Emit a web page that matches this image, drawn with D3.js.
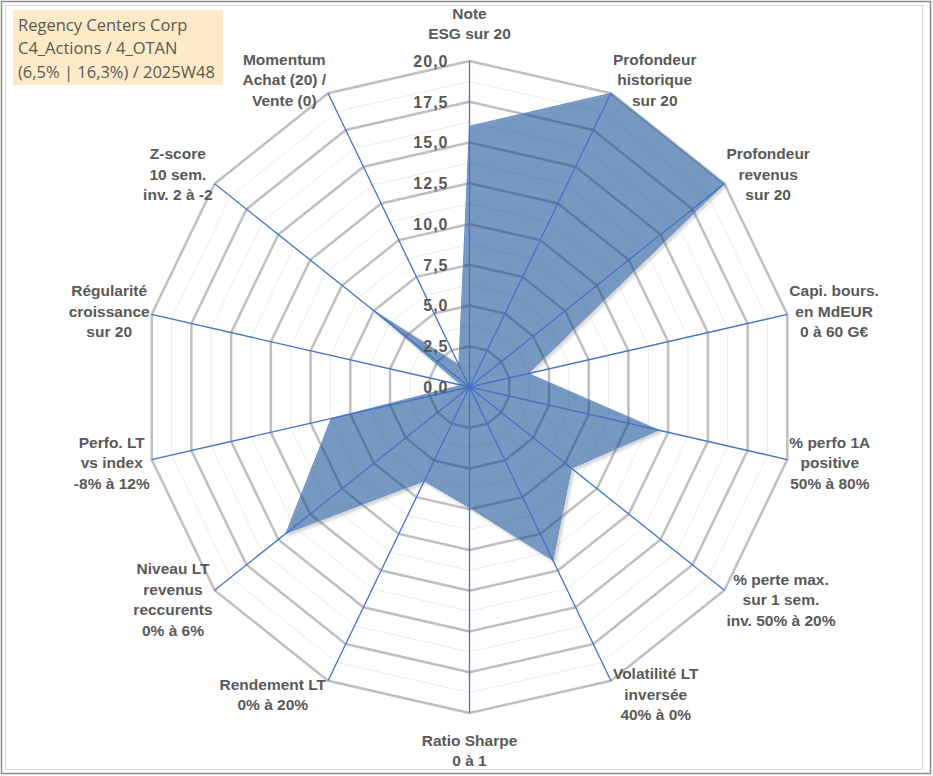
<!DOCTYPE html>
<html>
<head>
<meta charset="utf-8">
<script src="https://cdn.jsdelivr.net/npm/d3@7"></script>
<style>
  body { margin: 0; background: #fff; }
  svg { display: block; }
  .lbl { font-family: "Liberation Sans", Arial, sans-serif; font-weight: bold; font-size: 15.5px; fill: #595959; }
  .tick { font-family: "Liberation Sans", Arial, sans-serif; font-weight: bold; font-size: 16px; letter-spacing: 1px; fill: #595959; }
  .title { font-family: "Open Sans", sans-serif; font-size: 16.5px; fill: #595959; }
</style>
</head>
<body>
<svg id="chart" width="933" height="776"></svg>
<script>
// axis labels (clockwise from top)
const categories = [
  ["Note", "ESG sur 20"],
  ["Profondeur", "historique", "sur 20"],
  ["Profondeur", "revenus", "sur 20"],
  ["Capi. bours.", "en MdEUR", "0 à 60 G€"],
  ["% perfo 1A", "positive", "50% à 80%"],
  ["% perte max.", "sur 1 sem.", "inv. 50% à 20%"],
  ["Volatilité LT", "inversée", "40% à 0%"],
  ["Ratio Sharpe", "0 à 1"],
  ["Rendement LT", "0% à 20%"],
  ["Niveau LT", "revenus", "reccurents", "0% à 6%"],
  ["Perfo. LT", "vs index", "-8% à 12%"],
  ["Régularité", "croissance", "sur 20"],
  ["Z-score", "10 sem.", "inv. 2 à -2"],
  ["Momentum", "Achat (20) /", "Vente (0)"]
];

const values = [16.0, 20, 20, 3.7, 11.9, 8.0, 11.8, 7.4, 6.4, 14.4, 8.7, 0.5, 7.5, 1.5];

const majorTicks = [0, 2.5, 5, 7.5, 10, 12.5, 15, 17.5, 20];
const minorTicks = [1.25, 3.75, 6.25, 8.75, 11.25, 13.75, 16.25, 18.75];

const titleLines = ["Regency Centers Corp", "C4_Actions / 4_OTAN", "(6,5% | 16,3%) / 2025W48"];

const svg = d3.select('#chart');
const cx = 469.5, cy = 387, R = 326;
const n = categories.length;

const r = d3.scaleLinear().domain([0, 20]).range([0, R]);
const angle = d3.scaleLinear().domain([0, n]).range([0, 2 * Math.PI]);

const pt = (i, v) => [cx + r(v) * Math.sin(angle(i)), cy - r(v) * Math.cos(angle(i))];

// frame
svg.append('rect').attr('x', 1.5).attr('y', 1.5).attr('width', 929).attr('height', 772)
  .attr('fill', '#fff').attr('stroke', '#8c8c8c').attr('stroke-width', 1.5);
svg.append('rect').attr('x', 5.5).attr('y', 5.5).attr('width', 917).attr('height', 764)
  .attr('fill', 'none').attr('stroke', '#d9d9d9').attr('stroke-width', 1);

// shadow only outside the shape, so the translucent fill is not darkened
const defs = svg.append('defs');
const f = defs.append('filter').attr('id', 'shadow')
  .attr('x', '-10%').attr('y', '-10%').attr('width', '120%').attr('height', '120%');
f.append('feGaussianBlur').attr('in', 'SourceAlpha').attr('stdDeviation', 1.5).attr('result', 'blur');
f.append('feOffset').attr('in', 'blur').attr('dx', 1.5).attr('dy', 1.5).attr('result', 'off');
f.append('feFlood').attr('flood-color', '#000').attr('flood-opacity', 0.3).attr('result', 'col');
f.append('feComposite').attr('in', 'col').attr('in2', 'off').attr('operator', 'in').attr('result', 'sh');
f.append('feComposite').attr('in', 'sh').attr('in2', 'SourceAlpha').attr('operator', 'out').attr('result', 'shOut');
const merge = f.append('feMerge');
merge.append('feMergeNode').attr('in', 'shOut');
merge.append('feMergeNode').attr('in', 'SourceGraphic');

const ringPath = v => d3.range(n).map(i => pt(i, v).join(',')).join(' ');

const grid = svg.append('g');
grid.selectAll('polygon.minor').data(minorTicks).join('polygon')
  .attr('class', 'minor')
  .attr('points', d => ringPath(d))
  .attr('fill', 'none').attr('stroke', '#ececec').attr('stroke-width', 1);
grid.selectAll('polygon.major').data(majorTicks.filter(d => d > 0)).join('polygon')
  .attr('class', 'major')
  .attr('points', d => ringPath(d))
  .attr('fill', 'none').attr('stroke', '#bfbfbf').attr('stroke-width', 2.5)
  .attr('stroke-linejoin', 'round');

// series
const radial = d3.lineRadial()
  .angle((d, i) => angle(i))
  .radius(d => r(d))
  .curve(d3.curveLinearClosed);

svg.append('path')
  .datum(values)
  .attr('transform', `translate(${cx},${cy})`)
  .attr('d', radial)
  .attr('fill', 'rgb(0,65,145)').attr('fill-opacity', 0.5)
  .attr('stroke', '#6a90c8').attr('stroke-width', 1)
  .attr('filter', 'url(#shadow)');

// axis spokes
svg.append('g').selectAll('line').data(d3.range(n)).join('line')
  .attr('x1', cx).attr('y1', cy)
  .attr('x2', i => pt(i, 20)[0]).attr('y2', i => pt(i, 20)[1])
  .attr('stroke', '#4472c4').attr('stroke-width', 1.3);

// tick labels
svg.append('g').selectAll('text').data(majorTicks).join('text')
  .attr('class', 'tick')
  .attr('x', cx - 21)
  .attr('y', d => cy - r(d))
  .attr('dy', '0.36em')
  .attr('text-anchor', 'end')
  .text(d => d3.format('.1f')(d).replace('.', ','));

// category labels
const lineH = 20.5;
const lab = svg.append('g');
categories.forEach((lines, i) => {
  const a = angle(i);
  const [ex, ey] = pt(i, 20);
  const g = lab.append('g');
  const texts = g.selectAll('text').data(lines).join('text')
    .attr('class', 'lbl').attr('text-anchor', 'middle').text(d => d);
  const w = d3.max(texts.nodes(), t => t.getComputedTextLength());
  const h = lines.length * lineH;
  const s = Math.sin(a), c = Math.cos(a);
  let mx = ex, my;
  if (s > 0.1) mx = ex + 2 + w / 2;
  else if (s < -0.1) mx = ex - 2 - w / 2;
  if (Math.abs(s) <= 0.1) my = ey - c * (h / 2 + 17);
  else my = ey - c * 15;
  texts.attr('x', mx)
    .attr('y', (d, k) => my - h / 2 + lineH * k + lineH / 2)
    .attr('dy', '0.36em');
});

// title box
svg.append('rect').attr('x', 13).attr('y', 10).attr('width', 210).attr('height', 75).attr('fill', '#fdeac6');
svg.append('g').selectAll('text').data(titleLines).join('text')
  .attr('class', 'title')
  .attr('x', 18)
  .attr('y', (d, i) => 25 + i * 23.5)
  .attr('dy', '0.36em')
  .text(d => d);
</script>
</body>
</html>
